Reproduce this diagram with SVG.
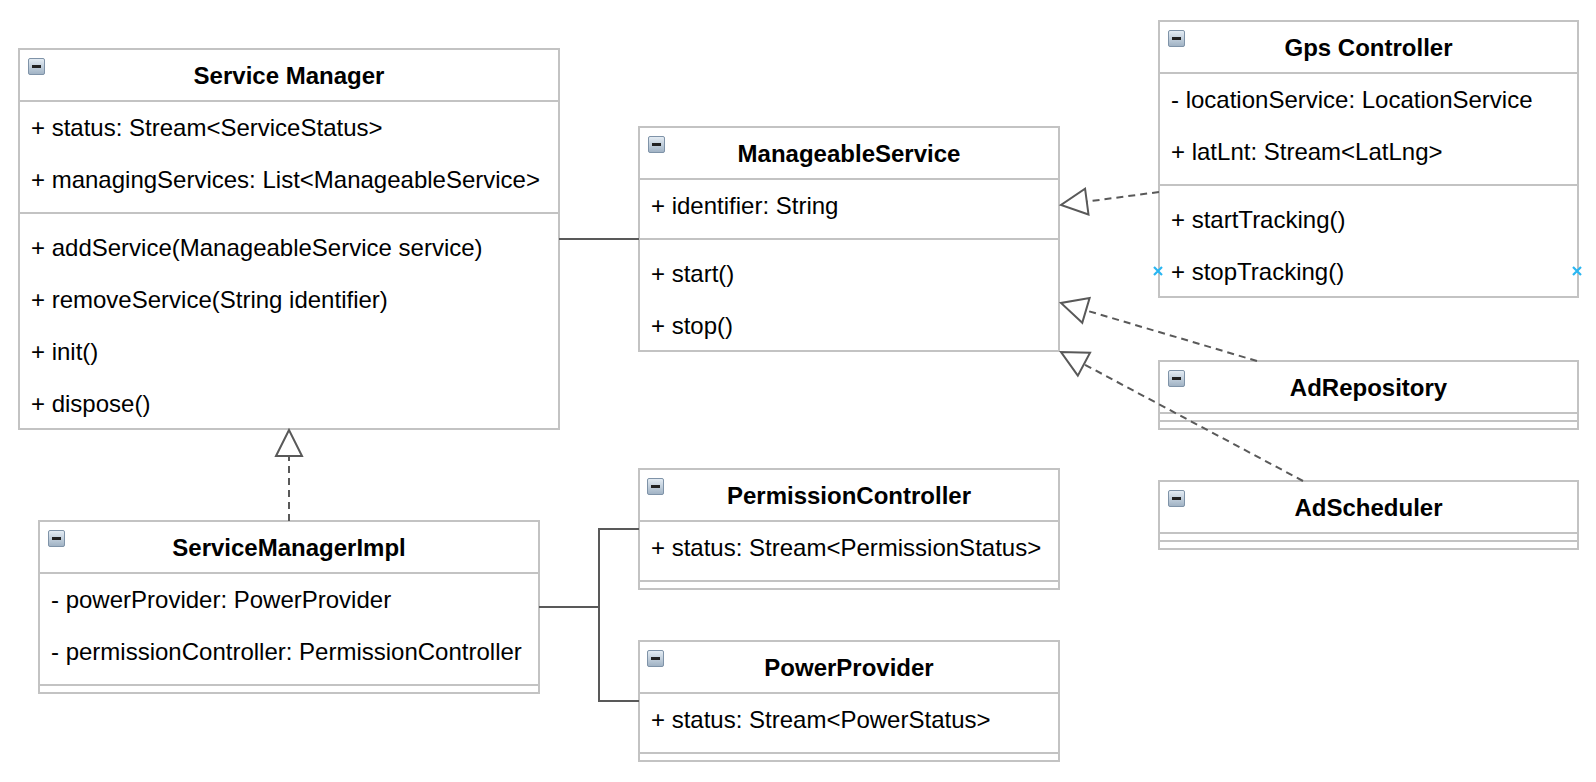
<svg xmlns="http://www.w3.org/2000/svg" width="1596" height="782" viewBox="0 0 1596 782">
<style>
.box{fill:#ffffff;stroke:#c3c3c3;stroke-width:2}
.sep{stroke:#c3c3c3;stroke-width:2;fill:none}
.title{font-family:"Liberation Sans",Arial,Helvetica,sans-serif;font-size:24px;font-weight:bold;fill:#000;text-anchor:middle}
.mem{font-family:"Liberation Sans",Arial,Helvetica,sans-serif;font-size:24px;fill:#000}
.edge{fill:none;stroke:#595959;stroke-width:2}
.dash{stroke-dasharray:7 5}
.mark{stroke:#29b6f2;stroke-width:2.2;fill:none}
</style>
<defs>
<linearGradient id="ig" x1="0" y1="0" x2="0" y2="1">
<stop offset="0" stop-color="#e6eef5"/>
<stop offset="1" stop-color="#9fb1c3"/>
</linearGradient>
<g id="icon">
<rect x="0.5" y="0.5" width="16" height="16" rx="1.5" fill="url(#ig)" stroke="#7f93a8" stroke-width="1"/>
<rect x="4" y="7" width="9" height="3" fill="#222"/>
</g>
<marker id="tri" markerUnits="userSpaceOnUse" markerWidth="30" markerHeight="30" refX="26" refY="13" orient="auto" overflow="visible">
<path d="M0,0 L26,13 L0,26 Z" fill="#ffffff" stroke="#595959" stroke-width="2" stroke-dasharray="none"/>
</marker>
</defs>

<g id="service-manager">
<rect class="box" x="19" y="49" width="540" height="380"/>
<path class="sep" d="M19,101 H559 M19,213 H559"/>
<use href="#icon" x="28" y="58"/>
<text class="title" x="289" y="83.5">Service Manager</text>
<text class="mem" x="31" y="135.5">+ status: Stream&lt;ServiceStatus&gt;</text>
<text class="mem" x="31" y="187.5">+ managingServices: List&lt;ManageableService&gt;</text>
<text class="mem" x="31" y="255.5">+ addService(ManageableService service)</text>
<text class="mem" x="31" y="307.5">+ removeService(String identifier)</text>
<text class="mem" x="31" y="359.5">+ init()</text>
<text class="mem" x="31" y="411.5">+ dispose()</text>
</g>

<g id="manageable-service">
<rect class="box" x="639" y="127" width="420" height="224"/>
<path class="sep" d="M639,179 H1059 M639,239 H1059"/>
<use href="#icon" x="648" y="136"/>
<text class="title" x="849" y="161.5">ManageableService</text>
<text class="mem" x="651" y="213.5">+ identifier: String</text>
<text class="mem" x="651" y="281.5">+ start()</text>
<text class="mem" x="651" y="333.5">+ stop()</text>
</g>

<g id="gps-controller">
<rect class="box" x="1159" y="21" width="419" height="276"/>
<path class="sep" d="M1159,73 H1578 M1159,185 H1578"/>
<use href="#icon" x="1168" y="30"/>
<text class="title" x="1368.5" y="55.5">Gps Controller</text>
<text class="mem" x="1171" y="107.5">- locationService: LocationService</text>
<text class="mem" x="1171" y="159.5">+ latLnt: Stream&lt;LatLng&gt;</text>
<text class="mem" x="1171" y="227.5">+ startTracking()</text>
<text class="mem" x="1171" y="279.5">+ stopTracking()</text>
</g>

<g id="ad-repository">
<rect class="box" x="1159" y="361" width="419" height="68"/>
<path class="sep" d="M1159,413 H1578 M1159,421 H1578"/>
<use href="#icon" x="1168" y="370"/>
<text class="title" x="1368.5" y="395.5">AdRepository</text>
</g>

<g id="ad-scheduler">
<rect class="box" x="1159" y="481" width="419" height="68"/>
<path class="sep" d="M1159,533 H1578 M1159,541 H1578"/>
<use href="#icon" x="1168" y="490"/>
<text class="title" x="1368.5" y="515.5">AdScheduler</text>
</g>

<g id="service-manager-impl">
<rect class="box" x="39" y="521" width="500" height="172"/>
<path class="sep" d="M39,573 H539 M39,685 H539"/>
<use href="#icon" x="48" y="530"/>
<text class="title" x="289" y="555.5">ServiceManagerImpl</text>
<text class="mem" x="51" y="607.5">- powerProvider: PowerProvider</text>
<text class="mem" x="51" y="659.5">- permissionController: PermissionController</text>
</g>

<g id="permission-controller">
<rect class="box" x="639" y="469" width="420" height="120"/>
<path class="sep" d="M639,521 H1059 M639,581 H1059"/>
<use href="#icon" x="647" y="478"/>
<text class="title" x="849" y="503.5">PermissionController</text>
<text class="mem" x="651" y="555.5">+ status: Stream&lt;PermissionStatus&gt;</text>
</g>

<g id="power-provider">
<rect class="box" x="639" y="641" width="420" height="120"/>
<path class="sep" d="M639,693 H1059 M639,753 H1059"/>
<use href="#icon" x="647" y="650"/>
<text class="title" x="849" y="675.5">PowerProvider</text>
<text class="mem" x="651" y="727.5">+ status: Stream&lt;PowerStatus&gt;</text>
</g>

<g id="connectors">
<path class="edge" d="M559,239 H639"/>
<path class="edge" d="M539,607 H599 V529 H639"/>
<path class="edge" d="M539,607 H599 V701 H639"/>
<path class="edge dash" d="M289,521 V430" marker-end="url(#tri)"/>
<path class="edge dash" d="M1159,192 L1061,205" marker-end="url(#tri)"/>
<path class="edge dash" d="M1257,361 L1061,303" marker-end="url(#tri)"/>
<path class="edge dash" d="M1303,481 L1061,352" marker-end="url(#tri)"/>
<path class="mark" d="M1154,267 L1162,275 M1162,267 L1154,275 M1573,267 L1581,275 M1581,267 L1573,275"/>
</g>
</svg>
